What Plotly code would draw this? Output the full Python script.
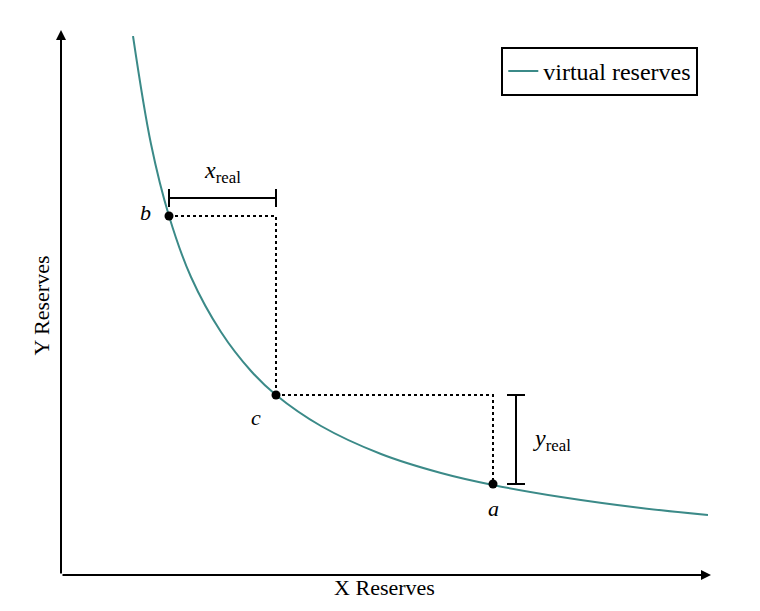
import plotly.graph_objects as go

# curve points (data units: x right of origin, y above origin)
curve_x = [72, 90, 108, 130, 160, 190, 215, 260, 320, 380, 432, 500, 580, 647]
curve_y = [539, 431, 359, 298, 243, 204, 180, 149, 121, 102, 90, 78, 67, 60]
pt_names = ["b", "c", "a"]
pt_x = [108, 215, 432]
pt_y = [359, 180, 91]

teal = "#3b8a88"
serif = "Liberation Serif"
fig = go.Figure()
fig.add_trace(go.Scatter(x=curve_x, y=curve_y, mode="lines", line=dict(color=teal, width=2, shape="spline"),
                         name="virtual reserves"))
fig.add_trace(go.Scatter(x=[pt_x[0], pt_x[1], pt_x[1]], y=[pt_y[0], pt_y[0], pt_y[1]], mode="lines",
                         line=dict(color="black", width=2, dash="dot"), showlegend=False))
fig.add_trace(go.Scatter(x=[pt_x[1], pt_x[2], pt_x[2]], y=[pt_y[1], pt_y[1], pt_y[2]], mode="lines",
                         line=dict(color="black", width=2, dash="dot"), showlegend=False))
bx_y = 377
fig.add_trace(go.Scatter(x=[pt_x[0], pt_x[0], None, pt_x[0], pt_x[1], None, pt_x[1], pt_x[1]],
                         y=[bx_y - 9, bx_y + 9, None, bx_y, bx_y, None, bx_y - 9, bx_y + 9],
                         mode="lines", line=dict(color="black", width=2), showlegend=False))
by_x = 455
fig.add_trace(go.Scatter(x=[by_x - 9, by_x + 9, None, by_x, by_x, None, by_x - 9, by_x + 9],
                         y=[pt_y[1], pt_y[1], None, pt_y[1], pt_y[2], None, pt_y[2], pt_y[2]],
                         mode="lines", line=dict(color="black", width=2), showlegend=False))
fig.add_trace(go.Scatter(x=pt_x, y=pt_y, mode="markers", marker=dict(color="black", size=9), showlegend=False))

ann = []
offs = [(-24, -4), (-20, 22), (0, 24)]
for n, x, y, (dx, dy) in zip(pt_names, pt_x, pt_y, offs):
    ann.append(dict(x=x, y=y, text=f"<i>{n}</i>", showarrow=False, xshift=dx, yshift=-dy,
                    font=dict(size=22, family=serif, color="black")))
ann.append(dict(x=(pt_x[0] + pt_x[1]) / 2, y=bx_y, text="<i>x</i><sub>real</sub>", showarrow=False, yshift=26,
                font=dict(size=24, family=serif, color="black")))
ann.append(dict(x=by_x, y=(pt_y[1] + pt_y[2]) / 2, text="<i>y</i><sub>real</sub>", showarrow=False, xshift=36,
                font=dict(size=24, family=serif, color="black")))
ann.append(dict(x=650, y=0, ax=0, ay=0, xref="x", yref="y", axref="x", ayref="y", text="", showarrow=True,
                arrowhead=2, arrowsize=1, arrowwidth=2, arrowcolor="black"))
ann.append(dict(x=0, y=545, ax=0, ay=0, xref="x", yref="y", axref="x", ayref="y", text="", showarrow=True,
                arrowhead=2, arrowsize=1, arrowwidth=2, arrowcolor="black"))

fig.update_layout(
    width=760, height=611, plot_bgcolor="white", paper_bgcolor="white",
    margin=dict(l=53, r=60, t=28, b=44),
    xaxis=dict(range=[0, 647], showgrid=False, zeroline=False, showticklabels=False, automargin=False,
               title=dict(text="X Reserves", font=dict(size=22, family=serif, color="black"), standoff=4)),
    yaxis=dict(range=[0, 539], showgrid=False, zeroline=False, showticklabels=False, automargin=False,
               title=dict(text="Y Reserves", font=dict(size=22, family=serif, color="black"), standoff=4)),
    legend=dict(x=0.985, y=0.98, xanchor="right", yanchor="top", bordercolor="black", borderwidth=2,
                bgcolor="white", font=dict(size=24, family=serif, color="black")),
    annotations=ann,
)
fig.write_html("out.html")
